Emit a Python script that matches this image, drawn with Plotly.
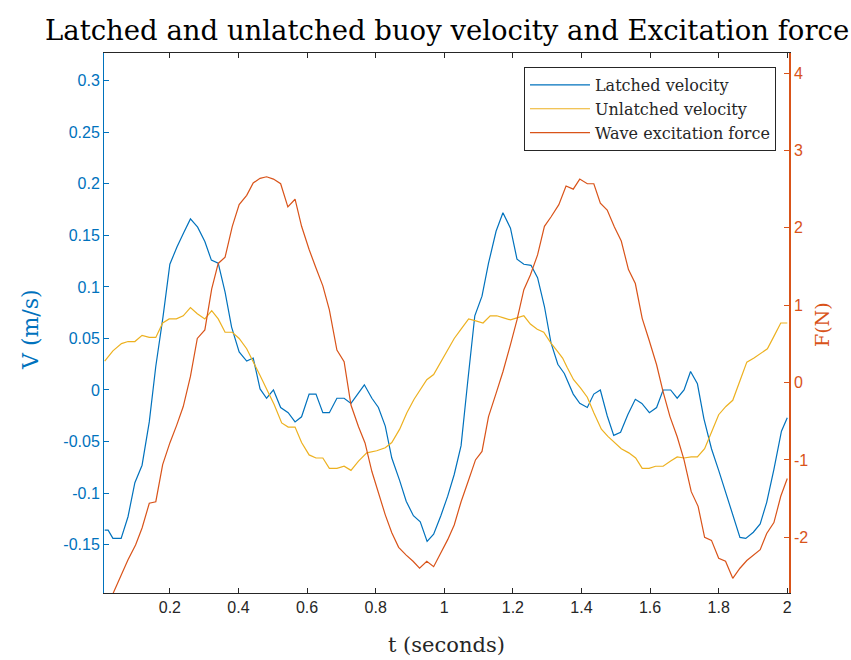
import plotly.graph_objects as go

# ---------------- data ----------------
t_latched = [0.010, 0.020, 0.034, 0.058, 0.078, 0.098, 0.119, 0.140, 0.159, 0.180,
             0.200, 0.221, 0.241, 0.260, 0.281, 0.302, 0.321, 0.341, 0.361, 0.380,
             0.402, 0.424, 0.443, 0.463, 0.482, 0.502, 0.523, 0.545, 0.565, 0.584,
             0.606, 0.626, 0.646, 0.665, 0.687, 0.708, 0.728, 0.748, 0.767, 0.789,
             0.808, 0.828, 0.847, 0.870, 0.889, 0.910, 0.930, 0.950, 0.969, 0.990,
             1.010, 1.029, 1.049, 1.068, 1.089, 1.110, 1.129, 1.151, 1.171, 1.193,
             1.212, 1.232, 1.253, 1.272, 1.292, 1.311, 1.331, 1.350, 1.376, 1.395,
             1.417, 1.436, 1.455, 1.475, 1.494, 1.514, 1.535, 1.557, 1.576, 1.598,
             1.619, 1.638, 1.660, 1.679, 1.699, 1.718, 1.738, 1.757, 1.779, 1.800,
             1.820, 1.840, 1.862, 1.879, 1.901, 1.921, 1.940, 1.961, 1.983, 2.000]
v_latched = [-0.136, -0.136, -0.144, -0.144, -0.123, -0.090, -0.073, -0.031, 0.023, 0.071,
             0.122, 0.139, 0.153, 0.166, 0.158, 0.144, 0.126, 0.123, 0.095, 0.061,
             0.037, 0.028, 0.031, 0.001, -0.008, 0.000, -0.017, -0.022, -0.031, -0.026,
             -0.004, -0.004, -0.022, -0.022, -0.008, -0.008, -0.013, -0.004, 0.005, -0.008,
             -0.017, -0.035, -0.066, -0.088, -0.108, -0.122, -0.128, -0.147, -0.140, -0.122,
             -0.103, -0.082, -0.054, 0.007, 0.072, 0.091, 0.123, 0.154, 0.172, 0.157,
             0.127, 0.122, 0.121, 0.109, 0.081, 0.046, 0.025, 0.016, -0.004, -0.013,
             -0.017, -0.004, 0.000, -0.025, -0.044, -0.041, -0.024, -0.009, -0.013, -0.022,
             -0.017, 0.000, 0.000, -0.008, 0.000, 0.018, 0.006, -0.028, -0.057, -0.078,
             -0.099, -0.120, -0.143, -0.144, -0.138, -0.130, -0.109, -0.077, -0.040, -0.027]

t_unlatched = [0.010, 0.034, 0.059, 0.078, 0.098, 0.119, 0.140, 0.159, 0.179, 0.198,
               0.219, 0.239, 0.260, 0.280, 0.302, 0.322, 0.341, 0.361, 0.382, 0.402,
               0.424, 0.443, 0.463, 0.482, 0.504, 0.526, 0.545, 0.565, 0.584, 0.606,
               0.626, 0.646, 0.665, 0.687, 0.708, 0.728, 0.750, 0.774, 0.803, 0.828,
               0.847, 0.870, 0.891, 0.912, 0.932, 0.949, 0.969, 0.990, 1.010, 1.029,
               1.049, 1.071, 1.092, 1.113, 1.134, 1.153, 1.173, 1.193, 1.212, 1.232,
               1.251, 1.271, 1.290, 1.310, 1.329, 1.345, 1.358, 1.377, 1.397, 1.417,
               1.436, 1.458, 1.477, 1.496, 1.516, 1.538, 1.558, 1.577, 1.597, 1.616,
               1.638, 1.660, 1.679, 1.699, 1.720, 1.738, 1.759, 1.779, 1.800, 1.821,
               1.841, 1.862, 1.882, 1.903, 1.923, 1.942, 1.961, 1.981, 2.000]
v_unlatched = [0.028, 0.038, 0.045, 0.047, 0.047, 0.053, 0.051, 0.051, 0.065, 0.069,
               0.069, 0.072, 0.080, 0.074, 0.069, 0.077, 0.069, 0.056, 0.056, 0.050,
               0.040, 0.028, 0.014, 0.001, -0.014, -0.032, -0.036, -0.036, -0.051, -0.063,
               -0.066, -0.066, -0.076, -0.076, -0.074, -0.078, -0.069, -0.061, -0.059, -0.056,
               -0.051, -0.038, -0.022, -0.009, 0.002, 0.010, 0.015, 0.027, 0.039, 0.050,
               0.059, 0.069, 0.067, 0.065, 0.072, 0.072, 0.070, 0.068, 0.070, 0.072,
               0.064, 0.059, 0.056, 0.046, 0.038, 0.031, 0.022, 0.010, 0.002, -0.007,
               -0.022, -0.038, -0.045, -0.051, -0.057, -0.061, -0.066, -0.076, -0.076, -0.074,
               -0.074, -0.069, -0.065, -0.066, -0.065, -0.065, -0.057, -0.041, -0.024, -0.016,
               -0.010, 0.009, 0.027, 0.031, 0.036, 0.040, 0.052, 0.065, 0.065]

t_force = [0.010, 0.033, 0.054, 0.078, 0.100, 0.119, 0.140, 0.159, 0.179, 0.200,
           0.220, 0.239, 0.260, 0.280, 0.302, 0.322, 0.341, 0.361, 0.382, 0.402,
           0.424, 0.443, 0.463, 0.482, 0.502, 0.523, 0.544, 0.565, 0.584, 0.606,
           0.626, 0.646, 0.665, 0.687, 0.708, 0.728, 0.750, 0.769, 0.789, 0.808,
           0.828, 0.847, 0.867, 0.889, 0.909, 0.928, 0.949, 0.969, 0.990, 1.010,
           1.029, 1.049, 1.071, 1.091, 1.110, 1.129, 1.151, 1.171, 1.193, 1.212,
           1.232, 1.251, 1.272, 1.292, 1.311, 1.334, 1.355, 1.376, 1.395, 1.417,
           1.436, 1.455, 1.475, 1.496, 1.516, 1.537, 1.557, 1.577, 1.597, 1.619,
           1.638, 1.658, 1.679, 1.699, 1.720, 1.740, 1.759, 1.779, 1.800, 1.820,
           1.841, 1.862, 1.882, 1.901, 1.921, 1.940, 1.961, 1.981, 2.000]
f_force = [-2.97, -2.74, -2.53, -2.29, -2.10, -1.88, -1.56, -1.54, -1.06, -0.78,
           -0.55, -0.31, 0.08, 0.57, 0.68, 1.21, 1.54, 1.62, 2.02, 2.30,
           2.42, 2.58, 2.64, 2.66, 2.63, 2.57, 2.27, 2.37, 2.02, 1.72,
           1.48, 1.25, 0.94, 0.42, 0.27, -0.29, -0.57, -0.78, -1.15, -1.43,
           -1.71, -1.94, -2.13, -2.23, -2.31, -2.40, -2.31, -2.38, -2.20, -2.03,
           -1.84, -1.54, -1.26, -1.00, -0.89, -0.44, -0.14, 0.14, 0.49, 0.81,
           1.20, 1.39, 1.65, 2.02, 2.14, 2.30, 2.54, 2.50, 2.63, 2.57,
           2.57, 2.32, 2.23, 2.01, 1.83, 1.46, 1.28, 0.83, 0.55, 0.23,
           -0.12, -0.44, -0.70, -1.00, -1.41, -1.60, -2.00, -2.04, -2.27, -2.31,
           -2.53, -2.40, -2.30, -2.23, -2.16, -1.95, -1.81, -1.47, -1.24]

x_tickvals = [0.2, 0.4, 0.6, 0.8, 1.0, 1.2, 1.4, 1.6, 1.8, 2.0]
x_ticktext = ["0.2", "0.4", "0.6", "0.8", "1", "1.2", "1.4", "1.6", "1.8", "2"]
v_tickvals = [-0.15, -0.1, -0.05, 0, 0.05, 0.1, 0.15, 0.2, 0.25, 0.3]
v_ticktext = ["-0.15", "-0.1", "-0.05", "0", "0.05", "0.1", "0.15", "0.2", "0.25", "0.3"]
f_tickvals = [-2, -1, 0, 1, 2, 3, 4]
f_ticktext = ["-2", "-1", "0", "1", "2", "3", "4"]

BLUE = "#0072BD"
YELLOW = "#EDB120"
ORANGE = "#D95319"
DARK = "#262626"
SERIF = "DejaVu Serif, Liberation Serif, serif"
SANS = "Liberation Sans, Arial, sans-serif"

fig = go.Figure()
fig.add_trace(go.Scatter(x=t_latched, y=v_latched, mode="lines", name="Latched velocity",
                         line=dict(color=BLUE, width=1.2), yaxis="y"))
fig.add_trace(go.Scatter(x=t_unlatched, y=v_unlatched, mode="lines", name="Unlatched velocity",
                         line=dict(color=YELLOW, width=1.2), yaxis="y"))
fig.add_trace(go.Scatter(x=t_force, y=f_force, mode="lines", name="Wave excitation force",
                         line=dict(color=ORANGE, width=1.2), yaxis="y2"))

fig.update_layout(
    width=851, height=660,
    margin=dict(l=104, r=62, t=53, b=67, autoexpand=False),
    paper_bgcolor="white", plot_bgcolor="white",
    showlegend=True,
    legend=dict(x=0.981, xanchor="right", y=0.974, yanchor="top",
                bgcolor="white", bordercolor=DARK, borderwidth=1,
                font=dict(family=SERIF, size=16, color=DARK),
                tracegroupgap=0, itemwidth=60),
    xaxis=dict(range=[0.008, 2.005], tickvals=x_tickvals, ticktext=x_ticktext,
               showgrid=False, zeroline=False, showline=True, linecolor=DARK, linewidth=1,
               mirror="ticks", ticks="inside", ticklen=5, tickcolor=DARK,
               tickfont=dict(family=SANS, size=16, color=DARK), automargin=False),
    yaxis=dict(range=[-0.197, 0.327], tickvals=v_tickvals, ticktext=v_ticktext,
               showgrid=False, zeroline=False, showline=True, linecolor=BLUE, linewidth=1,
               ticks="inside", ticklen=5, tickcolor=BLUE,
               tickfont=dict(family=SANS, size=16, color=BLUE), automargin=False),
    yaxis2=dict(range=[-2.72, 4.26], tickvals=f_tickvals, ticktext=f_ticktext,
                overlaying="y", side="right", anchor="x",
                showgrid=False, zeroline=False, showline=True, linecolor=ORANGE, linewidth=1.5,
                ticks="inside", ticklen=5, tickcolor=ORANGE,
                tickfont=dict(family=SANS, size=16, color=ORANGE), automargin=False),
    annotations=[
        dict(text="Latched and unlatched buoy velocity and Excitation force",
             xref="paper", yref="paper", x=0.5, y=(593 - 30) / 540,
             xanchor="center", yanchor="middle", showarrow=False,
             font=dict(family=SERIF, size=27.5, color="black")),
        dict(text="t (seconds)", xref="paper", yref="paper", x=0.5, y=-(645 - 593) / 540,
             xanchor="center", yanchor="middle", showarrow=False,
             font=dict(family=SERIF, size=21, color=DARK)),
        dict(text="V (m/s)", xref="paper", yref="paper", x=-(104 - 30) / 685, y=(593 - 330) / 540,
             xanchor="center", yanchor="middle", showarrow=False, textangle=-90,
             font=dict(family=SERIF, size=22, color=BLUE)),
        dict(text="F(N)", xref="paper", yref="paper", x=1 + (822 - 789) / 685, y=(593 - 325) / 540,
             xanchor="center", yanchor="middle", showarrow=False, textangle=-90,
             font=dict(family=SERIF, size=19, color=ORANGE)),
    ],
)

fig.write_html("out.html", config={"displayModeBar": False},
               post_script="document.body.style.margin='0px';document.body.style.overflow='hidden';")
